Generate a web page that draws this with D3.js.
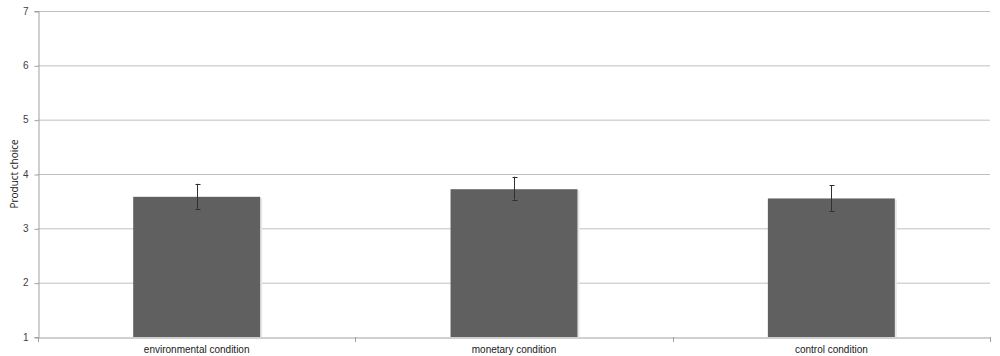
<!DOCTYPE html>
<html>
<head>
<meta charset="utf-8">
<script src="https://cdn.jsdelivr.net/npm/d3@7"></script>
<style>
  body { margin: 0; background: #fff; }
  svg { display: block; font-family: "Open Sans", "DejaVu Sans", sans-serif; }
</style>
</head>
<body>
<div id="chart"></div>
<script>
// Values
const categories = ["environmental condition", "monetary condition", "control condition"];
const means = [3.58, 3.72, 3.55];
const errLow = [3.36, 3.53, 3.32];
const errHigh = [3.82, 3.95, 3.79];
const yTicks = [1, 2, 3, 4, 5, 6, 7];

const width = 1000, height = 356;
const margin = { top: 11, right: 10, bottom: 19, left: 38 };

const svg = d3.select("#chart").append("svg")
  .attr("width", width)
  .attr("height", height);

const x = d3.scaleBand()
  .domain(categories)
  .range([margin.left, width - margin.right])
  .paddingInner(0.6)
  .paddingOuter(0.3);

const y = d3.scaleLinear()
  .domain([1, 7])
  .range([height - margin.bottom, margin.top]);

// gridlines
svg.append("g")
  .selectAll("line")
  .data(yTicks.slice(1))
  .join("line")
  .attr("x1", margin.left)
  .attr("x2", width - margin.right)
  .attr("y1", d => y(d) + 0.5)
  .attr("y2", d => y(d) + 0.5)
  .attr("stroke", "#c0c0c0")
  .attr("stroke-width", 1);

// y axis
const yAxis = svg.append("g")
  .attr("transform", `translate(${margin.left + 0.5},0)`)
  .call(d3.axisLeft(y).tickValues(yTicks).tickFormat(d3.format("d")).tickSize(4).tickPadding(6));
yAxis.select(".domain").attr("stroke", "#a0a0a0");
yAxis.selectAll(".tick line").attr("stroke", "#a0a0a0").attr("transform", "translate(0,0.5)");
yAxis.selectAll("text").attr("fill", "#404040").attr("font-size", 10);

// bars with a faint shadow
const bars = svg.append("g");
bars.selectAll("rect.shadow")
  .data(means)
  .join("rect")
  .attr("class", "shadow")
  .attr("x", (d, i) => x(categories[i]) + 1)
  .attr("y", d => y(d) + 1)
  .attr("width", x.bandwidth() + 1)
  .attr("height", d => y(1) - y(d) - 1)
  .attr("fill", "#e6e6e6");
bars.selectAll("rect.bar")
  .data(means)
  .join("rect")
  .attr("class", "bar")
  .attr("x", (d, i) => x(categories[i]))
  .attr("y", d => y(d))
  .attr("width", x.bandwidth())
  .attr("height", d => y(1) - y(d))
  .attr("fill", "#606060");

// x axis
const xAxis = svg.append("g")
  .attr("transform", `translate(0,${y(1) + 0.5})`)
  .call(d3.axisBottom(x).tickSize(0).tickPadding(8));
xAxis.select(".domain").attr("stroke", "#a0a0a0");
xAxis.selectAll("text").attr("fill", "#202020").attr("font-size", 10);

// category dividers
const bounds = [margin.left, ...categories.slice(1).map(c => x(c) - x.step() * x.paddingInner() / 2), width - margin.right];
svg.append("g")
  .selectAll("line")
  .data(bounds)
  .join("line")
  .attr("x1", d => Math.round(d) + 0.5)
  .attr("x2", d => Math.round(d) + 0.5)
  .attr("y1", y(1))
  .attr("y2", y(1) + 5)
  .attr("stroke", "#a0a0a0");

// error bars
const err = svg.append("g").attr("stroke", "#303030").attr("stroke-width", 1);
categories.forEach((c, i) => {
  const cx = Math.round(x(c) + x.bandwidth() / 2) + 0.5;
  err.append("line").attr("x1", cx).attr("x2", cx).attr("y1", y(errHigh[i])).attr("y2", y(errLow[i]));
  err.append("line").attr("x1", cx - 2).attr("x2", cx + 3).attr("y1", Math.round(y(errHigh[i])) + 0.5).attr("y2", Math.round(y(errHigh[i])) + 0.5);
  err.append("line").attr("x1", cx - 2).attr("x2", cx + 3).attr("y1", Math.round(y(errLow[i])) + 0.5).attr("y2", Math.round(y(errLow[i])) + 0.5);
});

// y axis title
svg.append("text")
  .attr("transform", `translate(18,${(y(7) + y(1)) / 2}) rotate(-90)`)
  .attr("text-anchor", "middle")
  .attr("font-size", 10)
  .attr("fill", "#202020")
  .text("Product choice");
</script>
</body>
</html>
